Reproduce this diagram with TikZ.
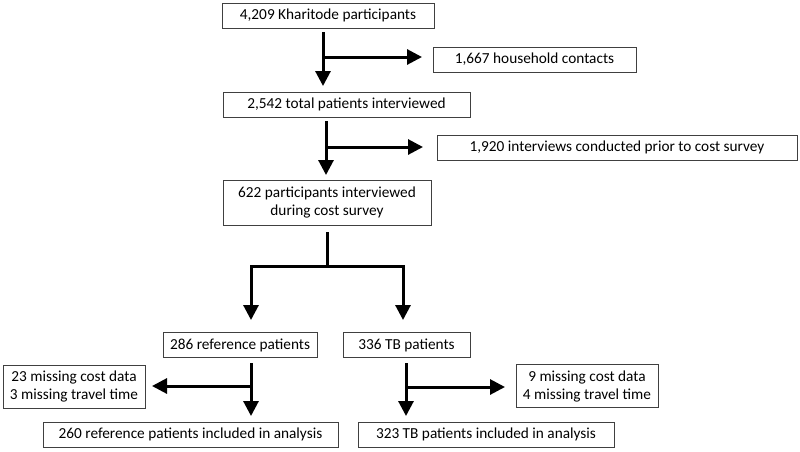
\documentclass[tikz,border=0pt]{standalone}
\usepackage{fontspec}
\setmainfont{Carlito}
\usetikzlibrary{arrows.meta}
\begin{document}
\begin{tikzpicture}[x=1pt,y=-1pt,
  box/.style={draw=black!75, line width=0.9pt, fill=white, inner sep=0pt, align=center,
    font=\fontsize{15.3}{18}\selectfont, minimum height=25pt},
  flow/.style={line width=3pt, line join=miter, -{Triangle[width=15pt,length=15pt]}},
  plainline/.style={line width=3pt}]
\useasboundingbox (0,0) rectangle (800,451);
\fill[white] (0,0) rectangle (800,451);
% boxes
\node[box, minimum width=212pt] (b1) at (328,15.5) {4,209 Kharitode participants};
\node[box, minimum width=203pt] (hh) at (534.5,59.5) {1,667 household contacts};
\node[box, minimum width=247pt] (b2) at (346.5,104.5) {2,542 total patients interviewed};
\node[box, minimum width=360pt] (prior) at (617,147.5) {1,920 interviews conducted prior to cost survey};
\node[box, minimum width=208pt, minimum height=45pt] (b3) at (327,202.5) {622 participants interviewed\\during cost survey};
\node[box, minimum width=154pt] (ref) at (240,345) {286 reference patients};
\node[box, minimum width=127pt] (tb) at (406.5,345) {336 TB patients};
\node[box, minimum width=142pt, minimum height=43pt] (mref) at (74,386.5) {23 missing cost data\\3 missing travel time};
\node[box, minimum width=295pt] (aref) at (190.5,434.5) {260 reference patients included in analysis};
\node[box, minimum width=142pt, minimum height=43pt] (mtb) at (587,386) {9 missing cost data\\4 missing travel time};
\node[box, minimum width=256pt] (atb) at (486,434.5) {323 TB patients included in analysis};
% connector coordinates
\coordinate (a1s) at (323,32);
\coordinate (a1e) at (323,86);
\coordinate (a1b) at (323,57);
\coordinate (a1h) at (422,57);
\coordinate (a2s) at (326,121);
\coordinate (a2e) at (326,175);
\coordinate (a2b) at (326,147);
\coordinate (a2h) at (423,147);
\coordinate (a3s) at (327,232);
\coordinate (a3m) at (327,266);
\coordinate (a3l) at (251,320);
\coordinate (a3r) at (403,320);
\coordinate (a4s) at (251,363);
\coordinate (a4e) at (251,416);
\coordinate (a4b) at (251,386);
\coordinate (a4h) at (152,386);
\coordinate (a5s) at (406,363);
\coordinate (a5e) at (406,416);
\coordinate (a5b) at (406,387);
\coordinate (a5h) at (505,387);
% connectors
\draw[flow] (a1s) -- (a1e);
\draw[flow] (a1b) -- (a1h);
\draw[flow] (a2s) -- (a2e);
\draw[flow] (a2b) -- (a2h);
\draw[plainline] (a3s) -- (a3m);
\draw[flow] (a3m) -| (a3l);
\draw[flow] (a3m) -| (a3r);
\draw[flow] (a4s) -- (a4e);
\draw[flow] (a4b) -- (a4h);
\draw[flow] (a5s) -- (a5e);
\draw[flow] (a5b) -- (a5h);
\end{tikzpicture}
\end{document}
